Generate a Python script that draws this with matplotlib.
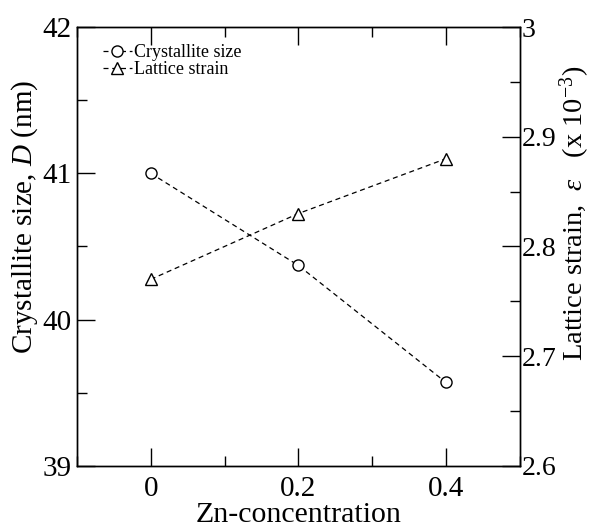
import matplotlib
matplotlib.use('Agg')
import matplotlib.pyplot as plt
from matplotlib.ticker import MultipleLocator

plt.rcParams['font.family'] = ['Liberation Serif', 'DejaVu Serif']
plt.rcParams['mathtext.fontset'] = 'custom'
plt.rcParams['mathtext.rm'] = 'Liberation Serif'
plt.rcParams['mathtext.it'] = 'Liberation Serif:italic'

zn = [0, 0.2, 0.4]
size_D = [41.0, 40.37, 39.57]
strain = [2.77, 2.83, 2.88]

fig = plt.figure(figsize=(6.01, 5.30), dpi=100)
ax = fig.add_axes([0.128, 0.121, 0.737, 0.828])
ax2 = ax.twinx()

l1, = ax.plot(zn, size_D, ls=(0, (4, 3)), color='black', lw=0.9,
              marker='o', ms=8, mfc='white', mec='black', mew=1.0,
              label='Crystallite size')
l2, = ax2.plot(zn, strain, ls=(0, (4, 3)), color='black', lw=0.9,
               marker='^', ms=9, mfc='white', mec='black', mew=1.0,
               label='Lattice strain')

ax.set_xlim(-0.1, 0.5)
ax.set_ylim(39, 42)
ax2.set_ylim(2.6, 3.0)

ax.set_xticks([0, 0.2, 0.4])
ax.set_xticklabels(['0', '0.2', '0.4'])
ax.xaxis.set_minor_locator(MultipleLocator(0.1))
ax.set_yticks([39, 40, 41, 42])
ax.yaxis.set_minor_locator(MultipleLocator(0.5))
ax2.set_yticks([2.6, 2.7, 2.8, 2.9, 3.0])
ax2.set_yticklabels(['2.6', '2.7', '2.8', '2.9', '3'])
ax2.yaxis.set_minor_locator(MultipleLocator(0.05))

ax.tick_params(axis='both', which='major', direction='in', length=13, width=1,
               labelsize=21, top=True, right=False)
ax.tick_params(axis='both', which='minor', direction='in', length=7, width=1,
               top=True, right=False)
ax.tick_params(axis='x', pad=7)
ax.tick_params(axis='y', pad=4)
ax2.tick_params(axis='y', which='major', direction='in', length=13, width=1,
                labelsize=20, pad=1)
ax2.tick_params(axis='y', which='minor', direction='in', length=7, width=1)

for a in (ax, ax2):
    for s in a.spines.values():
        s.set_linewidth(1.0)

ax.set_xlabel('Zn-concentration', fontsize=21.5, labelpad=0)
ax.set_ylabel('Crystallite size, $\\mathit{D}$ (nm)', fontsize=21)
ax.yaxis.set_label_coords(-0.083, 0.567)
ax2.set_ylabel('Lattice strain,  $\\mathit{\\varepsilon}$   (x 10$^{-3}$)', fontsize=20.5)
ax2.yaxis.set_label_coords(1.085, 0.576)

leg = ax.legend(handles=[l1, l2], loc='upper left', bbox_to_anchor=(0.03, 0.99),
                frameon=False, fontsize=13, handlelength=1.6, handletextpad=0.15,
                labelspacing=0.0, borderaxespad=0.3)

fig.savefig('out.png', dpi=100)
